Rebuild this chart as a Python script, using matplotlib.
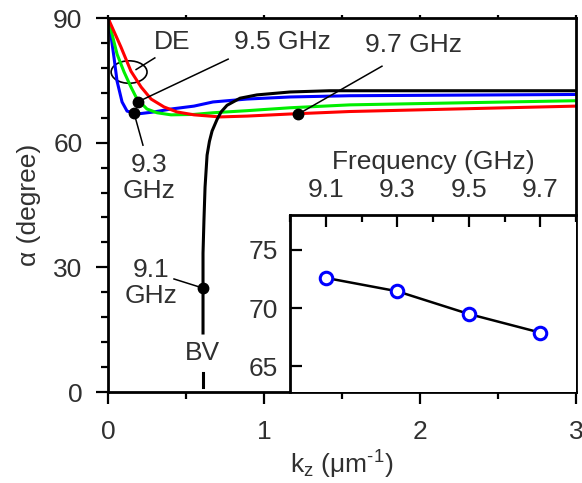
import numpy as np
import matplotlib
matplotlib.use("Agg")
import matplotlib.pyplot as plt
from matplotlib.patches import Ellipse
from matplotlib.ticker import MultipleLocator

plt.rcParams['font.family'] = ['Liberation Sans', 'DejaVu Sans']
plt.rcParams['mathtext.fontset'] = 'custom'
plt.rcParams['mathtext.rm'] = 'Liberation Sans'
plt.rcParams['mathtext.it'] = 'Liberation Sans'

TXT = '#303030'
FS = 19

# curves: k_z (1/um), alpha (degree)
k_91 = [0.609, 0.609, 0.609, 0.615, 0.622, 0.635, 0.650, 0.667, 0.699, 0.725, 0.763, 0.846, 0.955, 1.167, 1.42, 3.0]
a_91 = [14.2, 25.0, 33.4, 41.4, 49.3, 57.0, 60.3, 62.8, 65.6, 67.4, 69.0, 70.7, 71.5, 72.2, 72.5, 72.5]
bv_k = [0.609, 0.609]
bv_a = [1.2, 4.6]

k_93 = [0.0, 0.006, 0.038, 0.058, 0.090, 0.122, 0.186, 0.295, 0.404, 0.551, 0.673, 0.891, 1.167, 1.55, 3.0]
a_93 = [90.0, 89.3, 80.6, 74.8, 69.8, 67.6, 66.9, 67.4, 68.1, 68.8, 69.8, 70.5, 71.0, 71.3, 71.6]

k_95 = [0.0, 0.058, 0.103, 0.147, 0.186, 0.25, 0.314, 0.404, 0.551, 0.673, 0.891, 1.167, 1.55, 3.0]
a_95 = [90.0, 81.3, 77.0, 73.4, 70.5, 68.1, 67.2, 66.7, 66.8, 67.2, 67.7, 68.4, 69.1, 70.1]

k_97 = [0.0, 0.083, 0.147, 0.212, 0.276, 0.359, 0.442, 0.551, 0.718, 0.891, 1.167, 1.55, 3.0]
a_97 = [90.0, 83.0, 77.2, 73.4, 70.5, 68.6, 67.4, 66.7, 66.2, 66.4, 66.9, 67.5, 68.8]

# marked points on the curves
dot_k = [0.609, 0.167, 0.19, 1.22]
dot_a = [25.0, 67.1, 69.8, 66.9]

# inset data
freq = [9.1, 9.3, 9.5, 9.7]
alpha_inf = [72.6, 71.45, 69.5, 67.9]

fig = plt.figure(figsize=(5.82, 4.83), dpi=100)
ax = fig.add_axes([0.1856, 0.1884, 0.8041, 0.7743])

ax.plot(k_93, a_93, color='#0000ff', lw=2.2)
ax.plot(k_95, a_95, color='#00ee00', lw=2.2)
ax.plot(k_97, a_97, color='#ff0000', lw=2.2)
ax.plot(k_91, a_91, color='black', lw=2.2)
ax.plot(bv_k, bv_a, color='black', lw=2.2)
ax.plot(dot_k, dot_a, 'o', color='black', ms=7.5, ls='none', zorder=5)

ax.set_xlim(0, 3)
ax.set_ylim(0, 90)
ax.xaxis.set_major_locator(MultipleLocator(1))
ax.xaxis.set_minor_locator(MultipleLocator(0.5))
ax.yaxis.set_major_locator(MultipleLocator(30))
ax.yaxis.set_minor_locator(MultipleLocator(6))
ax.tick_params(which='both', direction='out', width=1.6, colors='black',
               labelcolor=TXT, labelsize=FS, top=True, right=False, labeltop=False)
ax.tick_params(which='major', length=8.4)
ax.tick_params(which='minor', length=4.8)
ax.tick_params(axis='y', which='major', pad=10)
ax.tick_params(axis='x', which='major', pad=12)
for s in ax.spines.values():
    s.set_linewidth(2)
# very short top ticks
for t in ax.xaxis.get_major_ticks() + ax.xaxis.get_minor_ticks():
    t.tick2line.set_markersize(2)

ax.set_xlabel(r'k$_\mathregular{z}$ ($\mathregular{\mu}$m$^{\text{-1}}$)', fontsize=FS, color=TXT, labelpad=3)
ax.set_ylabel('α (degree)', fontsize=FS, color=TXT, labelpad=9)

# annotations
ax.add_patch(Ellipse((0.135, 77.0), 0.23, 5.4, fill=False, lw=1.2, ec='black'))
ax.plot([0.18, 0.30], [77.6, 80.4], color='black', lw=1.1)
ax.text(0.41, 84.2, 'DE', fontsize=FS, color=TXT, ha='center', va='center')

ax.plot([dot_k[2], 0.77], [dot_a[2], 80.1], color='black', lw=1.1)
ax.text(1.115, 84.2, '9.5 GHz', fontsize=FS, color=TXT, ha='center', va='center')
ax.plot([dot_k[1], 0.224], [dot_a[1], 59.4], color='black', lw=1.1)
ax.text(0.26, 51.5, '9.3\nGHz', fontsize=FS, color=TXT, ha='center', va='center', linespacing=1.1)
ax.plot([dot_k[0], 0.423], [dot_a[0], 27.2], color='black', lw=1.1)
ax.text(0.276, 26.2, '9.1\nGHz', fontsize=FS, color=TXT, ha='center', va='center', linespacing=1.1)
ax.plot([dot_k[3], 1.756], [dot_a[3], 78.4], color='black', lw=1.1)
ax.text(1.96, 83.5, '9.7 GHz', fontsize=FS, color=TXT, ha='center', va='center')
ax.text(0.603, 9.4, 'BV', fontsize=FS, color=TXT, ha='center', va='center')

# inset
ins = fig.add_axes([0.4983, 0.1884, 0.4914, 0.3665])
ins.plot(freq, alpha_inf, '-', color='black', lw=1.8)
ins.plot(freq, alpha_inf, 'o', ms=9, mfc='white', mec='#0000ff', mew=2.2, ls='none')
ins.set_xlim(9.0, 9.8)
ins.set_ylim(62.8, 78)
ins.xaxis.tick_top()
ins.xaxis.set_label_position('top')
ins.set_xticks(freq)
ins.xaxis.set_minor_locator(MultipleLocator(0.1))
ins.set_yticks([65, 70, 75])
ins.tick_params(which='both', direction='in', width=1.6, labelcolor=TXT, labelsize=FS,
                bottom=False, right=False)
ins.tick_params(which='major', length=8.4, pad=9)
ins.tick_params(which='minor', length=4.8)
ins.set_xlabel('Frequency (GHz)', fontsize=FS, color=TXT, labelpad=7)
for s in ins.spines.values():
    s.set_linewidth(2)
ins.spines['bottom'].set_visible(False)
ins.spines['right'].set_visible(False)

fig.savefig('out.png', dpi=100)
